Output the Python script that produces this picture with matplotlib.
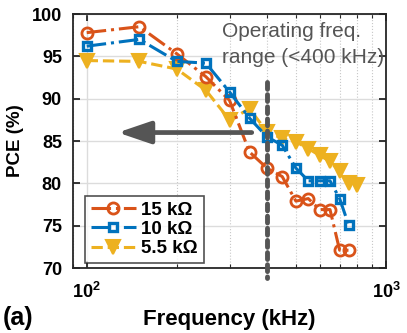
import numpy as np
import matplotlib
matplotlib.use("Agg")
import matplotlib.pyplot as plt
from matplotlib.ticker import NullFormatter, LogLocator

# --- data
freq_15k = [100, 150, 200, 250, 300, 350, 400, 450, 500, 550, 600, 650, 700, 750]
pce_15k = [97.8, 98.5, 95.3, 92.6, 89.8, 83.7, 81.8, 80.8, 77.9, 78.2, 76.9, 76.9, 72.1, 72.1]

freq_10k = [100, 150, 200, 250, 300, 350, 400, 450, 500, 550, 600, 650, 700, 750]
pce_10k = [96.2, 97.0, 94.4, 94.2, 90.8, 87.7, 85.5, 84.5, 81.8, 80.3, 80.3, 80.3, 78.2, 75.1]

freq_5k5 = [100, 150, 200, 250, 300, 350, 400, 450, 500, 550, 600, 650, 700, 750, 800]
pce_5k5 = [94.5, 94.4, 93.5, 91.0, 87.5, 88.8, 86.1, 85.3, 84.9, 84.1, 83.3, 82.6, 81.4, 80.0, 79.8]

labels = ["15 k\u03a9", "10 k\u03a9", "5.5 k\u03a9"]
y_ticks = [70, 75, 80, 85, 90, 95, 100]
x_ticks = [100, 1000]
x_ticklabels = [r"$\mathbf{10^2}$", r"$\mathbf{10^3}$"]
f_limit = 400          # operating range cut-off (kHz)
arrow_from, arrow_to, arrow_y = 356, 127, 86

# --- style
plt.rcParams["font.family"] = ["Liberation Sans", "DejaVu Sans"]
plt.rcParams["font.weight"] = "bold"
plt.rcParams["mathtext.fontset"] = "custom"
plt.rcParams["mathtext.bf"] = "Liberation Sans:bold"
plt.rcParams["mathtext.rm"] = "Liberation Sans:bold"

C_ORANGE = "#D95319"
C_BLUE = "#0072BD"
C_YELLOW = "#EDB120"
C_GRAY = "#555555"

fig = plt.figure(figsize=(4.07, 3.33), dpi=100)
ax = fig.add_axes([73 / 407, 1 - 268 / 333, 313 / 407, 254 / 333])

ax.plot(freq_15k, pce_15k, "-.", color=C_ORANGE, lw=2.2, marker="o", ms=8,
        mfc="none", mew=2.0, label=labels[0], zorder=4)
ax.plot(freq_10k, pce_10k, "-.", color=C_BLUE, lw=2.2, marker="s", ms=6,
        mfc="none", mew=2.4, label=labels[1], zorder=4)
ax.plot(freq_5k5, pce_5k5, "--", color=C_YELLOW, lw=2.2, marker="v", ms=10,
        mfc=C_YELLOW, mew=1.5, label=labels[2], zorder=3)

ax.set_xscale("log")
ax.set_xlim(90, 1000)
ax.set_ylim(70, 100)
ax.set_yticks(y_ticks)
ax.set_xticks(x_ticks)
ax.set_xticklabels(x_ticklabels)
ax.xaxis.set_minor_locator(LogLocator(base=10, subs=np.arange(2, 10)))
ax.xaxis.set_minor_formatter(NullFormatter())

# --- grid, matlab-ish
ax.grid(True, which="major", color="#dcdcdc", lw=1.0, zorder=0)
ax.grid(True, which="minor", axis="x", color="#c8c8c8", lw=0.8, ls=":", zorder=0)
ax.set_axisbelow(True)

ax.tick_params(which="both", direction="in", top=True, right=True, color="#262626")
ax.tick_params(which="major", length=5, width=1.3, labelsize=13, pad=8)
ax.tick_params(which="minor", length=3, width=0.8)
ax.tick_params(axis="x", which="major", pad=10)
for s in ax.spines.values():
    s.set_linewidth(1.3)
    s.set_color("#262626")

ax.set_xlabel("Frequency (kHz)", fontsize=16, fontweight="bold", labelpad=5)
ax.set_ylabel("PCE (%)", fontsize=13.5, fontweight="bold")
ax.yaxis.set_label_coords(-0.155, 0.5)

# --- operating range marker
ax.plot([f_limit, f_limit], [92, 68.8], color=C_GRAY, lw=3.5,
        ls=(0, (1.4, 1.1)), dash_capstyle="round", clip_on=False, zorder=5)
ax.annotate("", xy=(arrow_to, arrow_y), xytext=(arrow_from, arrow_y),
            arrowprops=dict(arrowstyle="-|>,head_length=2.0,head_width=0.68",
                            color=C_GRAY, lw=3.4, capstyle="round",
                            shrinkA=0, shrinkB=0), zorder=5)
ax.text(283, 97.3, "Operating freq.", color=C_GRAY, fontsize=15, fontweight="normal",
        va="baseline")
ax.text(283, 94.2, "range (<400 kHz)", color=C_GRAY, fontsize=15, fontweight="normal",
        va="baseline")

leg = ax.legend(loc="lower left", fontsize=13.5, frameon=True, fancybox=False,
                edgecolor="#262626", handlelength=2.4, handletextpad=0.3,
                borderpad=0.3, labelspacing=0.12, borderaxespad=0)
leg.set_bbox_to_anchor((12 / 313, 5 / 254), transform=ax.transAxes)
leg.get_frame().set_linewidth(1.2)

fig.text(3 / 407, 1 - 325 / 333, "(a)", fontsize=18, fontweight="bold", va="baseline")

fig.savefig("out.png", dpi=100)
